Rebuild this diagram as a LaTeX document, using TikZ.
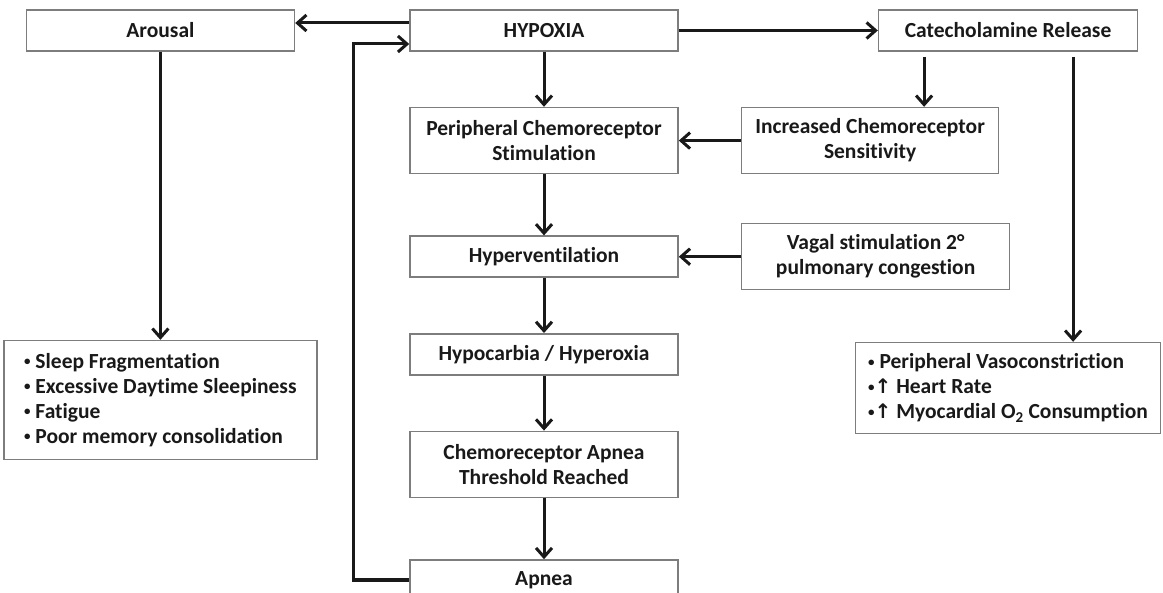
\documentclass[tikz,border=0pt]{standalone}
\usepackage{fontspec}
\setmainfont{Carlito}[Ligatures=NoCommon]
\newfontfamily\arrowfont{DejaVu Sans}
\usepackage{tikz}
\usepackage{xcolor}
\usetikzlibrary{arrows.meta,positioning}
\definecolor{boxgray}{RGB}{125,125,125}
\definecolor{inkgray}{RGB}{25,25,25}
\newcommand{\bul}{\raisebox{2.5pt}{\fontsize{13}{13}\selectfont •}}
\newcommand{\upar}{{\arrowfont\fontsize{20}{25}\selectfont ↑}}

\begin{document}
\begin{tikzpicture}[x=1pt, y=-1pt, >={Straight Barb[length=9pt,width=16pt]},
  box/.style={draw=boxgray, line width=1.6pt, fill=white, text=inkgray, align=center, inner sep=0pt,
    minimum width=268pt, minimum height=41pt, font=\fontsize{21.5}{25}\selectfont\bfseries},
  listbox/.style={box, align=left},
  link/.style={->, line width=3pt, inkgray}]
  \useasboundingbox (0,0) rectangle (1163,593);
  \node[box] (hypoxia) at (544,30.5) {HYPOXIA};
  \node[box, left=114pt of hypoxia] (arousal) {Arousal};
  \node[box, right=199pt of hypoxia, minimum width=259pt] (cat) {Catecholamine Release};
  \node[box, below=55pt of hypoxia, minimum height=66pt] (pcs) {Peripheral Chemoreceptor\\Stimulation};
  \node[box, right=62pt of pcs, minimum width=257pt, minimum height=66pt] (inc) {Increased Chemoreceptor\\Sensitivity};
  \node[box, below=61pt of pcs] (hyperv) {Hyperventilation};
  \node[box, right=62pt of hyperv, minimum height=66pt] (vagal) {Vagal stimulation 2°\\pulmonary congestion};
  \node[box, below=55pt of hyperv] (hypoc) {Hypocarbia / Hyperoxia};
  \node[box, below=55pt of hypoc, minimum height=66pt] (thresh) {Chemoreceptor Apnea\\Threshold Reached};
  \node[box, below=61pt of thresh, minimum height=40pt] (apnea) {Apnea};
  \node[listbox, below=288pt of arousal, minimum width=313pt, minimum height=119pt] (llist)
    {\bul\ Sleep Fragmentation\\\bul\ Excessive Daytime Sleepiness\\\bul\ Fatigue\\\bul\ Poor memory consolidation};
  \node[listbox, below=290pt of cat, minimum width=305pt, minimum height=91pt] (rlist)
    {\bul\ Peripheral Vasoconstriction\\\bul\upar\ Heart Rate\\\bul\upar\ Myocardial O\textsubscript{2} Consumption};

  \draw[link] ([yshift=7.5pt]hypoxia.west) -- ([yshift=7.5pt]arousal.east);
  \draw[link] (apnea.west) -- ++(-56,0) |- ([yshift=-13.5pt]hypoxia.west);
  \draw[link] (hypoxia) -- (cat);
  \draw[link] (hypoxia) -- (pcs);
  \draw[link] (pcs) -- (hyperv);
  \draw[link] (hyperv) -- (hypoc);
  \draw[link] (hypoc) -- (thresh);
  \draw[link] (thresh) -- (apnea);
  \draw[link] (inc) -- (pcs);
  \draw[link] (vagal.west) -- (vagal.west -| hyperv.east);
  \draw[link] ([xshift=-84pt,yshift=-5pt]cat.south) -- ([xshift=-84pt]cat.south |- inc.north);
  \draw[link] ([xshift=65pt,yshift=-5pt]cat.south) -- ([xshift=65pt]cat.south |- rlist.north);
  \draw[link] (arousal) -- (llist);
\end{tikzpicture}
\end{document}
